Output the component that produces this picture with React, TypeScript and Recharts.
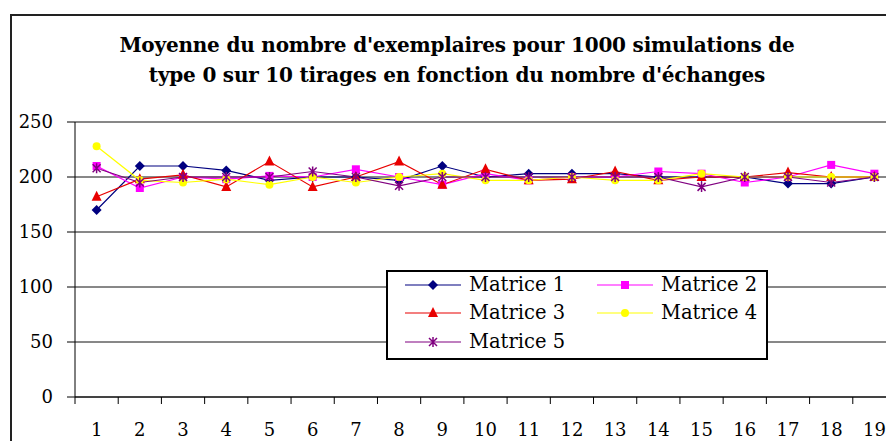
import { CartesianGrid, Line, LineChart, XAxis, YAxis } from "recharts";

const categories = [1, 2, 3, 4, 5, 6, 7, 8, 9, 10, 11, 12, 13, 14, 15, 16, 17, 18, 19];

const matrice1 = [170, 210, 210, 206, 197, 200, 200, 197, 210, 200, 203, 203, 203, 200, 200, 200, 194, 194, 200];
const matrice2 = [210, 190, 200, 198, 201, 200, 207, 200, 193, 203, 197, 200, 200, 205, 203, 195, 200, 211, 203];
const matrice3 = [182, 198, 202, 191, 214, 191, 200, 214, 193, 207, 197, 198, 205, 197, 200, 200, 204, 200, 200];
const matrice4 = [228, 197, 195, 198, 193, 200, 195, 200, 203, 197, 197, 200, 197, 197, 203, 200, 200, 200, 200];
const matrice5 = [208, 195, 200, 200, 200, 205, 200, 192, 200, 200, 200, 200, 200, 200, 191, 200, 200, 195, 200];

const yTicks = [0, 50, 100, 150, 200, 250];

const titleLines = [
  "Moyenne du nombre d'exemplaires pour 1000 simulations de",
  "type 0 sur 10 tirages en fonction du nombre d'échanges",
];

type Shape = "diamond" | "square" | "triangle" | "circle" | "star";

const series: { key: string; name: string; values: number[]; color: string; shape: Shape }[] = [
  { key: "m1", name: "Matrice 1", values: matrice1, color: "#000080", shape: "diamond" },
  { key: "m2", name: "Matrice 2", values: matrice2, color: "#ff00ff", shape: "square" },
  { key: "m3", name: "Matrice 3", values: matrice3, color: "#e80000", shape: "triangle" },
  { key: "m4", name: "Matrice 4", values: matrice4, color: "#ffff00", shape: "circle" },
  { key: "m5", name: "Matrice 5", values: matrice5, color: "#800080", shape: "star" },
];

const chartData = categories.map((x, i) => {
  const row: Record<string, number> = { x };
  series.forEach((s) => {
    row[s.key] = s.values[i];
  });
  return row;
});

// labels on the categories, tick marks between them (Excel style)
const xTicks = [...categories.flatMap((c) => [c - 0.5, c]), categories[categories.length - 1] + 0.5];

const FONT = "DejaVu Serif";
const X_TICK_SIZE = 7;
const X_TICK_MARGIN = 19;

function Marker({ shape, cx, cy, color }: { shape: Shape; cx: number; cy: number; color: string }) {
  switch (shape) {
    case "diamond":
      return (
        <polygon
          points={`${cx},${cy - 5} ${cx + 5},${cy} ${cx},${cy + 5} ${cx - 5},${cy}`}
          fill={color}
        />
      );
    case "square":
      return <rect x={cx - 4} y={cy - 4} width={8} height={8} fill={color} />;
    case "triangle":
      return (
        <polygon
          points={`${cx},${cy - 6} ${cx + 5},${cy + 4} ${cx - 5},${cy + 4}`}
          fill={color}
        />
      );
    case "circle":
      return <circle cx={cx} cy={cy} r={4} fill={color} />;
    default:
      return (
        <path
          d={`M${cx - 4},${cy - 4}L${cx + 4},${cy + 4}M${cx + 4},${cy - 4}L${cx - 4},${cy + 4}M${cx},${cy - 5}L${cx},${cy + 5}`}
          stroke={color}
          strokeWidth={1.5}
          fill="none"
        />
      );
  }
}

function XTick(props: any) {
  const { x, y, payload } = props;
  const v = payload.value;
  if (!Number.isInteger(v)) {
    return (
      <line
        x1={x}
        x2={x}
        y1={y - X_TICK_MARGIN - X_TICK_SIZE}
        y2={y - X_TICK_MARGIN}
        stroke="#000"
      />
    );
  }
  return (
    <text x={x} y={y} dy="0.71em" textAnchor="middle" fontSize={18} fontFamily={FONT} fill="#000">
      {v}
    </text>
  );
}

function ChartLegend() {
  const colLeft = [17, 209];
  const rowTop = [13, 41, 70];
  return (
    <div
      style={{
        position: "absolute",
        left: 386,
        top: 270,
        width: 382,
        height: 90,
        boxSizing: "border-box",
        border: "2px solid #000",
        background: "#fff",
      }}
    >
      {series.map((s, i) => (
        <div
          key={s.key}
          style={{
            position: "absolute",
            left: colLeft[i % 2],
            top: rowTop[Math.floor(i / 2)],
            transform: "translateY(-50%)",
            display: "flex",
            alignItems: "center",
            fontFamily: FONT,
            fontSize: 19.5,
            lineHeight: "24px",
            whiteSpace: "nowrap",
          }}
        >
          <svg width={56} height={14} style={{ marginRight: 8 }}>
            <line x1={0} x2={56} y1={7} y2={7} stroke={s.color} strokeWidth={1.2} />
            <Marker shape={s.shape} cx={28} cy={7} color={s.color} />
          </svg>
          {s.name}
        </div>
      ))}
    </div>
  );
}

export default function App() {
  return (
    <div
      style={{
        position: "absolute",
        left: 0,
        top: 0,
        width: 886,
        height: 441,
        overflow: "hidden",
        background: "#fff",
      }}
    >
      <div
        style={{
          position: "absolute",
          left: 10,
          top: 14,
          width: 1000,
          height: 600,
          border: "2px solid #222",
        }}
      />
      <div
        style={{
          position: "absolute",
          left: 0,
          width: 914,
          top: 30,
          textAlign: "center",
          fontFamily: FONT,
          fontWeight: "bold",
          fontSize: 20,
          lineHeight: "30px",
          letterSpacing: -0.2,
        }}
      >
        {titleLines.map((t) => (
          <div key={t}>{t}</div>
        ))}
      </div>
      <LineChart
        width={900}
        height={441}
        data={chartData}
        margin={{ top: 122, right: 4, left: 15, bottom: 0 }}
        style={{ position: "absolute", left: 0, top: 0 }}
      >
        <CartesianGrid stroke="#111" vertical={false} />
        <XAxis
          dataKey="x"
          type="number"
          domain={[0.5, 19.5]}
          ticks={xTicks}
          interval={0}
          tick={<XTick />}
          tickLine={false}
          tickSize={X_TICK_SIZE}
          tickMargin={X_TICK_MARGIN}
          axisLine={{ stroke: "#000" }}
          height={44}
        />
        <YAxis
          domain={[0, 250]}
          ticks={yTicks}
          interval={0}
          width={60}
          tickSize={8}
          tickMargin={14}
          axisLine={{ stroke: "#000" }}
          tickLine={{ stroke: "#000" }}
          tick={{ fontSize: 18, fontFamily: FONT, fill: "#000" }}
        />
        {series.map((s) => (
          <Line
            key={s.key}
            dataKey={s.key}
            name={s.name}
            type="linear"
            stroke={s.color}
            strokeWidth={1.2}
            isAnimationActive={false}
            dot={(p: any) => (
              <Marker key={`${s.key}-${p.index}`} shape={s.shape} cx={p.cx} cy={p.cy} color={s.color} />
            )}
            activeDot={false}
          />
        ))}
      </LineChart>
      <ChartLegend />
    </div>
  );
}
